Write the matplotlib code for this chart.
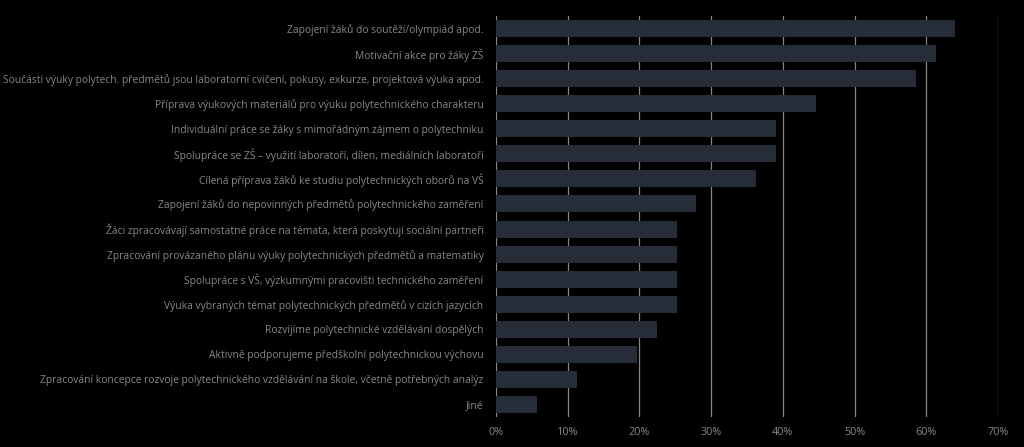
import matplotlib
matplotlib.use("Agg")
import matplotlib.pyplot as plt
from matplotlib.ticker import PercentFormatter

categories = [
    "Zapojení žáků do soutěží/olympiád apod.",
    "Motivační akce pro žáky ZŠ",
    "Součástí výuky polytech. předmětů jsou laboratorní cvičení, pokusy, exkurze, projektová výuka apod.",
    "Příprava výukových materiálů pro výuku polytechnického charakteru",
    "Individuální práce se žáky s mimořádným zájmem o polytechniku",
    "Spolupráce se ZŠ – využití laboratoří, dílen, mediálních laboratoří",
    "Cílená příprava žáků ke studiu polytechnických oborů na VŠ",
    "Zapojení žáků do nepovinných předmětů polytechnického zaměření",
    "Žáci zpracovávají samostatné práce na témata, která poskytují sociální partneři",
    "Zpracování provázaného plánu výuky polytechnických předmětů a matematiky",
    "Spolupráce s VŠ, výzkumnými pracovišti technického zaměření",
    "Výuka vybraných témat polytechnických předmětů v cizích jazycích",
    "Rozvíjíme polytechnické vzdělávání dospělých",
    "Aktivně podporujeme předškolní polytechnickou výchovu",
    "Zpracování koncepce rozvoje polytechnického vzdělávání na škole, včetně potřebných analýz",
    "Jiné",
]
values = [0.640, 0.613, 0.586, 0.446, 0.390, 0.390, 0.363, 0.279,
          0.252, 0.252, 0.252, 0.252, 0.225, 0.197, 0.113, 0.057]
xticks = [0, 0.1, 0.2, 0.3, 0.4, 0.5, 0.6, 0.7]

plt.rcParams['font.family'] = ['Open Sans', 'DejaVu Sans']

fig = plt.figure(figsize=(10.24, 4.47), dpi=100, facecolor='black')
ax = fig.add_axes([496/1024, 1 - 417/447, (998-496)/1024, (417-16)/447])
ax.set_facecolor('black')

y = list(range(len(categories)))
ax.barh(y, values, height=0.68, color='#262c38', zorder=3)
ax.set_yticks(y)
ax.set_yticklabels(categories)
ax.set_ylim(len(categories) - 0.5, -0.5)
ax.set_xlim(0, 0.7)
ax.set_xticks(xticks)
ax.xaxis.set_major_formatter(PercentFormatter(1.0, decimals=0))
ax.grid(axis='x', color='#858585', linewidth=0.9, zorder=0)
ax.tick_params(axis='both', length=0, colors='#878787')
ax.tick_params(axis='y', pad=9, labelsize=7.35)
ax.tick_params(axis='x', pad=7, labelsize=7.8)
for s in ax.spines.values():
    s.set_visible(False)

fig.savefig('out.png', dpi=100, facecolor='black')
